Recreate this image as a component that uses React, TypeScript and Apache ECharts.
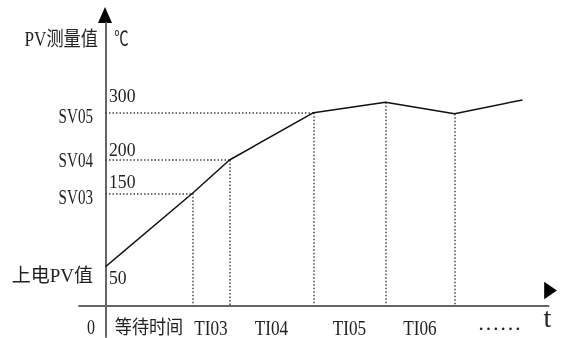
import React, { useEffect, useRef } from 'react';
import * as echarts from 'echarts';

// ---- data ----
const times = [0, 87, 124, 208, 280, 349, 417]; // schematic time units
const temps = [50, 150, 200, 300, 322, 298, 327]; // PV (°C)
const svNames = ['上电PV值', 'SV03', 'SV04', 'SV05'];
const svTemps = [50, 150, 200, 300];
const intervalLabels = ['等待时间', 'TI03', 'TI04', 'TI05', 'TI06'];
const hGuideIdx = [1, 2, 3]; // horizontal dotted guides (to y axis)
const vGuideIdx = [1, 2, 3, 4, 5]; // vertical dotted guides (to x axis)

// ---- schematic (non-linear) temperature scale: level of each tick on the axis ----
const TICK_LEVELS = [39, 112.4, 145.7, 193];
function levelOf(t: number): number {
  const n = svTemps.length;
  let i = 0;
  if (t >= svTemps[n - 1]) i = n - 2;
  else {
    while (i < n - 2 && t > svTemps[i + 1]) i++;
  }
  const slope = (TICK_LEVELS[i + 1] - TICK_LEVELS[i]) / (svTemps[i + 1] - svTemps[i]);
  return TICK_LEVELS[i] + (t - svTemps[i]) * slope;
}

const SERIF = '"Liberation Serif", "Noto Sans CJK SC", serif';
const CJK = '"Liberation Serif", "Noto Sans CJK SC", sans-serif';
const TXT = '#222';

export default function App() {
  const ref = useRef<HTMLDivElement>(null);
  useEffect(() => {
    const chart = echarts.init(ref.current!, null, { renderer: 'svg' });
    const pts = times.map((t, i) => [t, levelOf(temps[i])]);
    const guides: any[] = [];
    hGuideIdx.forEach((i) => guides.push({ coords: [[0, pts[i][1]], pts[i]] }));
    vGuideIdx.forEach((i) => guides.push({ coords: [pts[i], [pts[i][0], 0]] }));
    const xMin = -26.5, xMax = 443, yMin = -31.3, yMax = 283;
    const axisCommon = {
      type: 'value',
      axisLine: { show: true, onZero: true, lineStyle: { color: '#666', width: 2 } },
      axisTick: { show: false },
      axisLabel: { show: false },
      splitLine: { show: false },
    };
    chart.setOption({
      animation: false,
      grid: { left: 79, right: 14.5, top: 22.7, bottom: 1 },
      xAxis: { ...axisCommon, min: xMin, max: xMax },
      yAxis: { ...axisCommon, min: yMin, max: yMax },
      series: [
        {
          type: 'lines',
          coordinateSystem: 'cartesian2d',
          data: guides,
          silent: true,
          lineStyle: { color: '#444', width: 1.5, type: [1.5, 2], opacity: 1, curveness: 0 },
        },
        {
          type: 'line',
          data: pts,
          symbol: 'none',
          lineStyle: { color: '#111', width: 1.5 },
        },
      ],
    });
    const px = (x: number, y: number) => chart.convertToPixel({ gridIndex: 0 }, [x, y]) as number[];
    const g: any[] = [];
    const text = (x: number, y: number, s: string, o: any) =>
      g.push({
        type: 'text',
        x,
        y,
        scaleX: o.scaleX ?? 1,
        style: {
          text: s,
          fill: TXT,
          font: `${o.fontSize}px ${o.family ?? SERIF}`,
          fontSize: o.fontSize,
          fontFamily: o.family ?? SERIF,
          align: o.align ?? 'center',
          verticalAlign: 'middle',
        },
      });
    const origin = px(0, 0);
    // left SV labels
    const leftDy = [9, 4, 0.5, 3.3];
    const numDy = [10.8, -11.7, -10, -16.7];
    svNames.forEach((name, i) => {
      const p = px(0, levelOf(svTemps[i]));
      const isCjk = i === 0;
      text(p[0] - 12.5, p[1] + leftDy[i], name, {
        align: 'right',
        fontSize: isCjk ? 19 : 21,
        scaleX: isCjk ? 1 : 0.72,
        family: isCjk ? CJK : SERIF,
      });
      text(p[0] + 3.5, p[1] + numDy[i], String(svTemps[i]), { align: 'left', fontSize: 19, scaleX: 0.93 });
    });
    // x interval labels
    const labelY = origin[1] + 22;
    intervalLabels.forEach((lab, i) => {
      const mid = px((times[i] + times[i + 1]) / 2, 0);
      const isCjk = i === 0;
      text(mid[0], labelY, lab, {
        fontSize: isCjk ? 19 : 20,
        scaleX: isCjk ? 0.9 : 0.86,
        family: isCjk ? CJK : SERIF,
      });
    });
    text(origin[0] - 14.5, labelY, '0', { fontSize: 20, scaleX: 0.8 });
    const dotsP = px(times[5] + 45, 0);
    text(dotsP[0], labelY - 5.5, '……', { fontSize: 22, family: '"Liberation Serif", serif' });
    const end = px(xMax, 0);
    text(end[0] - 1, labelY - 10.5, 't', { fontSize: 28 });
    // axis titles
    const top = px(0, yMax);
    text(top[0] - 7.5, top[1] + 16.5, 'PV测量值', { align: 'right', fontSize: 20, scaleX: 0.86, family: CJK });
    text(top[0] + 16, top[1] + 14.5, '℃', { fontSize: 20, scaleX: 0.72, family: '"Noto Sans CJK SC", sans-serif' });
    // arrows
    g.push({
      type: 'polygon',
      shape: { points: [[top[0] - 0.5, top[1] - 15.7], [top[0] - 7.5, top[1] + 0.3], [top[0] + 6.5, top[1] + 0.3]] },
      style: { fill: '#000' },
    });
    g.push({
      type: 'polygon',
      shape: { points: [[end[0] - 4.3, end[1] - 24], [end[0] - 4.3, end[1] - 6.4], [end[0] + 8.4, end[1] - 15.2]] },
      style: { fill: '#000' },
    });
    chart.setOption({ graphic: g });
    return () => chart.dispose();
  }, []);
  return <div ref={ref} style={{ position: 'fixed', left: 0, top: 0, width: 563, height: 338 }} />;
}
